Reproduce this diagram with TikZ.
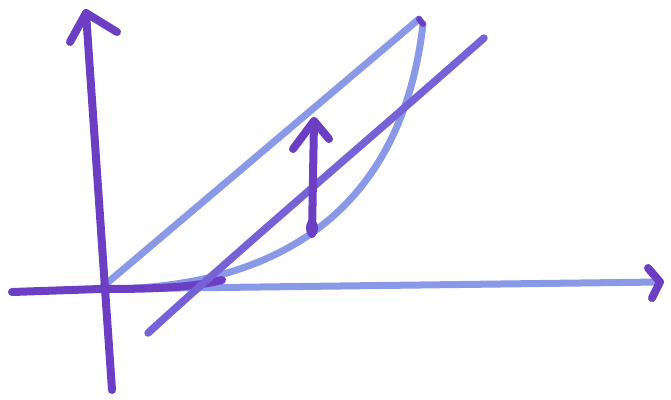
\documentclass[tikz,border=0pt]{standalone}
\definecolor{pen}{RGB}{108,62,196}
\definecolor{lblue}{RGB}{138,152,232}
\definecolor{mix}{RGB}{118,98,214}
\tikzset{
  bluestroke/.style={draw=lblue,line width=7pt,line cap=round,line join=round},
  penstroke/.style={draw=pen,line width=8pt,line cap=round,line join=round},
  mixstroke/.style={draw=mix,line width=7.5pt,line cap=round,line join=round}
}
\begin{document}
\begin{tikzpicture}[x=1pt,y=-1pt]
\useasboundingbox (0,0) rectangle (671,399);
% named points
\coordinate (O) at (100,289);
\coordinate (yb) at (112,390);
\coordinate (yt) at (86,13);
\coordinate (xl) at (12,292);
\coordinate (xr) at (660,282);
\coordinate (top) at (419,19);
\coordinate (cend) at (423,24);
\coordinate (ts) at (148,333);
\coordinate (te) at (484,38);
\coordinate (ab) at (312,234);
\coordinate (at) at (314,121);
% horizontal axis
\draw[bluestroke] (O) -- (xr);
\draw[penstroke] (xl) -- (O);
\draw[penstroke] (648,268) -- (xr) -- (652,298);
% chord
\draw[bluestroke] (O) -- (top);
% convex curve
\draw[bluestroke] (O) .. controls (260,290) and (400,225) .. (cend);
\draw[penstroke] (O) .. controls (150,289) and (190,288) .. (222,280);
\draw[penstroke,line width=6pt] (top) -- (cend);
% tangent line
\draw[mixstroke] (ts) .. controls (250,240) and (380,130) .. (te);
% vertical arrow
\draw[penstroke] (ab) -- (at);
\draw[penstroke] (293,149) -- (at) -- (329,139);
\fill[pen] (312,228) ellipse (6 and 9);
% vertical axis
\draw[penstroke] (yb) -- (yt);
\draw[penstroke] (70,42) -- (yt) -- (117,32);
\end{tikzpicture}
\end{document}
